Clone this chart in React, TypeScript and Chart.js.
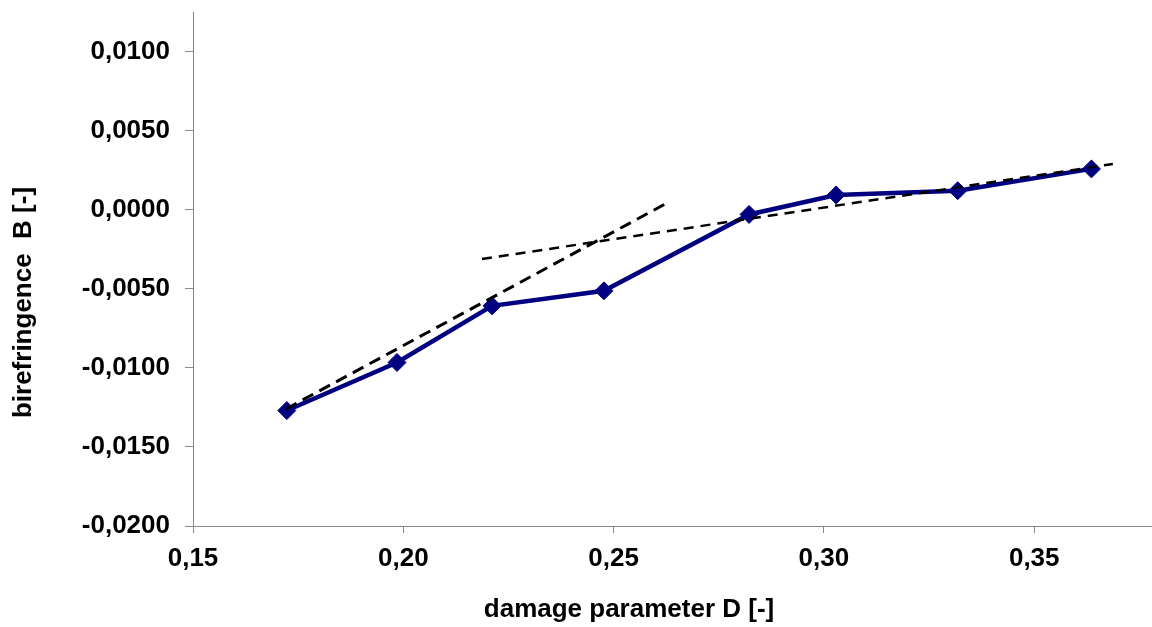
import React, { useEffect, useRef } from 'react';
import { Chart, registerables } from 'chart.js';

Chart.register(...registerables);

const damage = [0.1723, 0.1985, 0.2211, 0.2477, 0.2822, 0.3029, 0.3318, 0.3636];
const birefringence = [-0.0127, -0.00966, -0.00608, -0.00513, -0.0003, 0.00093, 0.0012, 0.00258];
const trendSteepX = [0.1721, 0.2624];
const trendSteepY = [-0.0126, 0.00038];
const trendFlatX = [0.2187, 0.3687];
const trendFlatY = [-0.00312, 0.00289];
const xTicks = [0.15, 0.2, 0.25, 0.3, 0.35];
const yTicks = [-0.02, -0.015, -0.01, -0.005, 0, 0.005, 0.01];
const xTitle = 'damage parameter D [-]';
const yTitle = 'birefringence  B [-]';

const FONT = '"Liberation Sans", Arial, sans-serif';

const toPoints = (xs: number[], ys: number[]) => xs.map((x, i) => ({ x, y: ys[i] }));

const titlesPlugin = {
  id: 'customTitles',
  afterDraw(chart: any) {
    const { ctx } = chart;
    ctx.save();
    ctx.fillStyle = '#000';
    ctx.font = `bold 26px ${FONT}`;
    ctx.textAlign = 'center';
    ctx.textBaseline = 'alphabetic';
    ctx.fillText(xTitle, 629, 617);
    ctx.translate(31, 302.5);
    ctx.rotate(-Math.PI / 2);
    ctx.fillText(yTitle, 0, 0);
    ctx.restore();
  },
};

export default function App() {
  const ref = useRef<HTMLCanvasElement>(null);
  useEffect(() => {
    if (!ref.current) return;
    const chart = new Chart(ref.current, {
      type: 'scatter',
      data: {
        datasets: [
          {
            label: 'trend steep',
            data: toPoints(trendSteepX, trendSteepY),
            showLine: true,
            borderColor: '#000',
            borderWidth: 3,
            borderDash: [12, 7],
            pointRadius: 0,
            fill: false,
          },
          {
            label: 'trend flat',
            data: toPoints(trendFlatX, trendFlatY),
            showLine: true,
            borderColor: '#000',
            borderWidth: 2.5,
            borderDash: [10, 7],
            pointRadius: 0,
            fill: false,
          },
          {
            label: 'B',
            data: toPoints(damage, birefringence),
            showLine: true,
            borderColor: '#000080',
            backgroundColor: '#000080',
            borderWidth: 4.5,
            pointStyle: 'rectRot',
            pointRadius: 9,
            pointBorderWidth: 1,
            fill: false,
          },
        ],
      },
      options: {
        responsive: false,
        animation: false,
        devicePixelRatio: 1,
        layout: { padding: { top: 12, left: 0, right: 0, bottom: 0 } },
        plugins: { legend: { display: false }, tooltip: { enabled: false } },
        scales: {
          x: {
            type: 'linear',
            min: 0.15,
            max: 0.378,
            afterBuildTicks: (scale: any) => {
              scale.ticks = xTicks.map((v) => ({ value: v }));
            },
            afterFit: (scale: any) => {
              scale.height = 101;
              scale.paddingLeft = 0;
              scale.paddingRight = 0;
            },
            grid: { display: true, drawOnChartArea: false, drawTicks: true, tickLength: 7, color: '#888' },
            border: { display: true, color: '#888', width: 1 },
            ticks: {
              padding: 10,
              color: '#000',
              font: { family: FONT, size: 26, weight: 'bold' },
              callback: (v: any) => Number(v).toFixed(2).replace('.', ','),
            },
          },
          y: {
            type: 'linear',
            min: -0.02,
            max: 0.0125,
            afterBuildTicks: (scale: any) => {
              scale.ticks = yTicks.map((v) => ({ value: v }));
            },
            afterFit: (scale: any) => {
              scale.width = 193;
              scale.paddingTop = 0;
              scale.paddingBottom = 0;
            },
            grid: { display: true, drawOnChartArea: false, drawTicks: true, tickLength: 8, color: '#888' },
            border: { display: true, color: '#888', width: 1 },
            ticks: {
              padding: 15,
              color: '#000',
              font: { family: FONT, size: 26, weight: 'bold' },
              callback: (v: any) => {
                const n = Math.abs(Number(v)) < 1e-12 ? 0 : Number(v);
                return n.toFixed(4).replace('.', ',');
              },
            },
          },
        },
      },
      plugins: [titlesPlugin],
    } as any);
    return () => chart.destroy();
  }, []);

  return (
    <div style={{ position: 'fixed', left: 0, top: 0, width: 1152, height: 627, overflow: 'hidden', background: '#fff' }}>
      <canvas ref={ref} width={1162} height={627} style={{ display: 'block' }} />
    </div>
  );
}
